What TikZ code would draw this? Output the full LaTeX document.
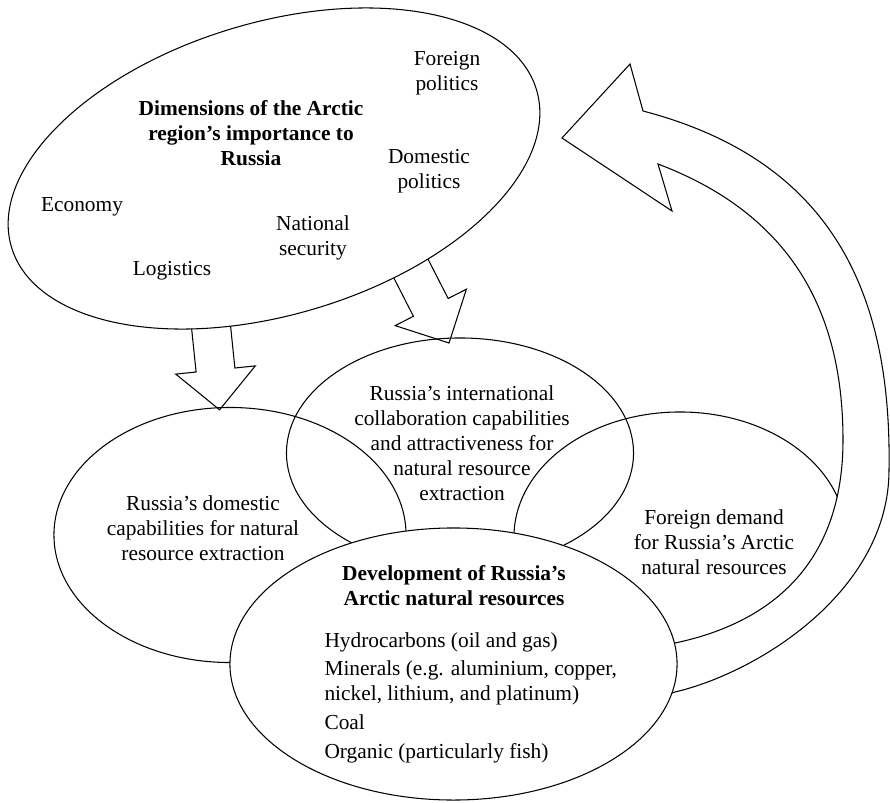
\documentclass[tikz,border=0pt]{standalone}
\usepackage{fontspec}
\setmainfont{Liberation Serif}
\usetikzlibrary{shapes.geometric}

\begin{document}
\begin{tikzpicture}[
  x=0.025cm, y=-0.025cm,
  line width=0.75pt,
  every node/.style={align=center, inner sep=0pt, font=\fontsize{15.2}{17.8}\selectfont},
  oval/.style={ellipse, draw},
  blockarrow/.style={draw, fill=white, line join=miter},
  heading/.style={font=\fontsize{15.2}{17.8}\selectfont\bfseries}
]
\useasboundingbox (0,0) rectangle (890,803);

\draw[blockarrow, shift={(215.5,370)}, rotate=5.9]
  (-19.5,-55) -- (-19.5,0) -- (-40,0) -- (0,40) -- (40,0) -- (19.5,0) -- (19.5,-55);
\draw[blockarrow, shift={(430.8,307.4)}, rotate=27.1]
  (-19.5,-60) -- (-19.5,0) -- (-40,0) -- (0,40) -- (40,0) -- (19.5,0) -- (19.5,-60);

\node[oval, fill=white, rotate=16.7, minimum width=13.7cm, minimum height=7.3cm] (dims) at (274,168.5) {};
\node[oval, minimum width=8.8cm, minimum height=6.375cm] (domestic) at (230,535) {};
\node[oval, minimum width=8.675cm, minimum height=5.75cm] (intl) at (460,453) {};
\node[oval, minimum width=8.3cm, minimum height=6.25cm] (demand) at (680,537) {};

\draw[blockarrow] (660,697) -- (675,692)
  .. controls (760,672) and (889,590) .. (889,470)
  .. controls (892,290) and (830,160) .. (643,111)
  -- (630,64) -- (562,138) -- (672,211) -- (658,164)
  .. controls (798,217) and (843,320) .. (843,440)
  .. controls (843,560) and (775,622) .. (675,643) -- (660,648);

\node[oval, fill=white, minimum width=11.175cm, minimum height=6.8cm] (devel) at (453.5,664) {};

\node (foreign) at (447,73) {Foreign\\politics};
\node[heading] (dimtitle) at (251,133) {Dimensions of the Arctic\\region's importance to\\Russia};
\node (dompol) at (429,171.5) {Domestic\\politics};
\node (economy) at (82,207) {Economy};
\node (security) at (313,237.5) {National\\security};
\node (logistics) at (172,271) {Logistics};
\node (domtext) at (203,528) {Russia's domestic\\capabilities for natural\\resource extraction};
\node (intltext) at (462,443) {Russia's international\\collaboration capabilities\\and attractiveness for\\natural resource\\extraction};
\node (demandtext) at (714,542) {Foreign demand\\for Russia's Arctic\\natural resources};
\node[heading] (develtitle) at (454,585.5) {Development of Russia's\\Arctic natural resources};
\node[align=left, anchor=north west] (resources) at (324,632) {Hydrocarbons (oil and gas)\\[2.5pt]Minerals (e.g. aluminium, copper,\\nickel, lithium, and platinum)\\[2.5pt]Coal\\[2.5pt]Organic (particularly fish)};
\end{tikzpicture}
\end{document}
